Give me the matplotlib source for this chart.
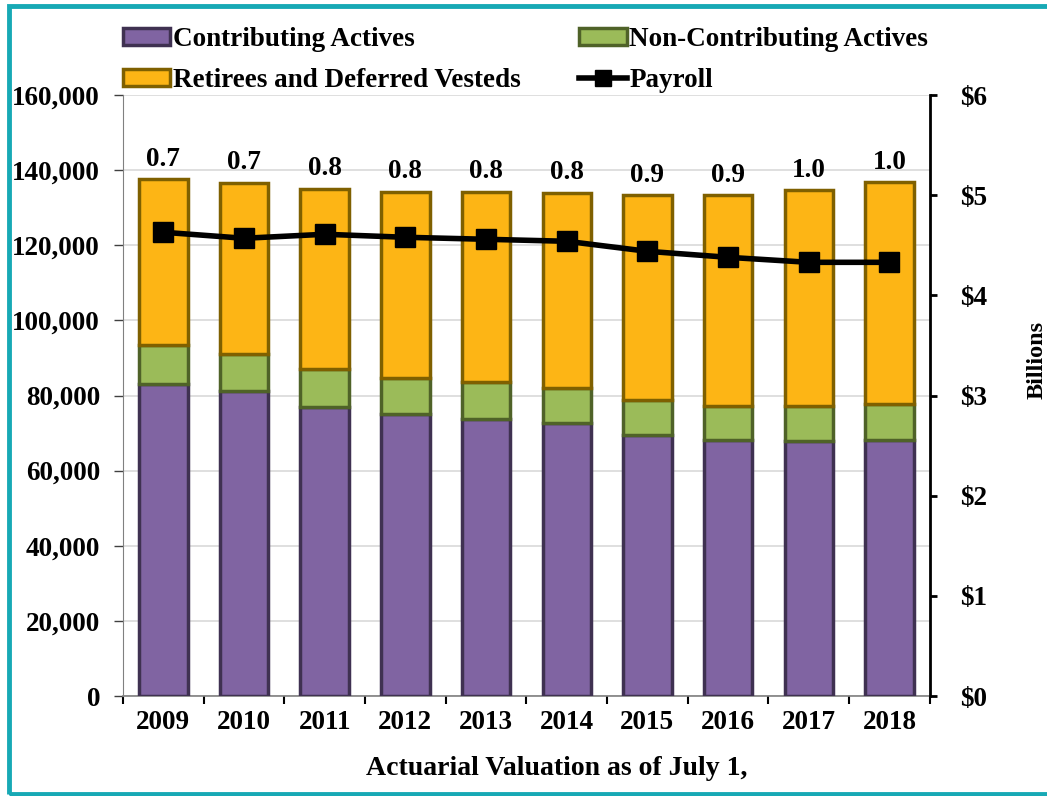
import numpy as np
import matplotlib.pyplot as plt
from matplotlib.patches import Rectangle, Patch
from matplotlib.lines import Line2D

plt.rcParams['font.family'] = ['Liberation Serif', 'DejaVu Serif']
plt.rcParams['font.weight'] = 'bold'

years = ['2009', '2010', '2011', '2012', '2013', '2014', '2015', '2016', '2017', '2018']
contributing = [83100, 81200, 77000, 75100, 73800, 72800, 69500, 68200, 67900, 68200]
non_contributing = [10300, 9800, 10000, 9700, 9900, 9100, 9300, 9000, 9300, 9500]
retirees = [44200, 45700, 48100, 49500, 50600, 52100, 54500, 56100, 57500, 59100]
payroll = [4.63, 4.57, 4.61, 4.58, 4.56, 4.54, 4.44, 4.38, 4.33, 4.33]
ratio_labels = ['0.7', '0.7', '0.8', '0.8', '0.8', '0.8', '0.9', '0.9', '1.0', '1.0']

FS = 19.5

fig = plt.figure(figsize=(10.47, 7.96), dpi=100)
ax = fig.add_axes([0.1175, 0.1256, 0.7705, 0.755])
ax2 = ax.twinx()

x = np.arange(len(years))
w = 0.6
contributing = np.array(contributing)
non_contributing = np.array(non_contributing)
retirees = np.array(retirees)

ax.bar(x, contributing, w, color='#8064A2', edgecolor='#3F3151', linewidth=2.5, zorder=3)
ax.bar(x, non_contributing, w, bottom=contributing, color='#9BBB59',
       edgecolor='#4F6228', linewidth=2.5, zorder=3)
ax.bar(x, retirees, w, bottom=contributing + non_contributing, color='#FDB515',
       edgecolor='#7F6000', linewidth=2.5, zorder=3)

# ratio labels above each stacked bar
totals = contributing + non_contributing + retirees
for xi, t, lab in zip(x, totals, ratio_labels):
    ax.text(xi, t + 2000, lab, ha='center', va='bottom', fontsize=FS, fontweight='bold')

ax2.plot(x, payroll, color='black', linewidth=4, marker='s', markersize=14, zorder=5)

ax.set_xlim(-0.5, 9.5)
ax.set_ylim(0, 160000)
ax2.set_ylim(0, 6)
ax.set_yticks(np.arange(0, 160001, 20000))
ax.set_yticklabels([f'{v:,}' for v in range(0, 160001, 20000)])
ax2.set_yticks(range(7))
ax2.set_yticklabels([f'${v}' for v in range(7)])

ax.set_xticks(x)
ax.set_xticklabels(years)
ax.set_xticks(np.arange(-0.5, 10, 1), minor=True)
ax.tick_params(axis='x', which='major', length=0, pad=10, labelsize=FS)
ax.tick_params(axis='x', which='minor', length=6, width=1.5, color='black')
ax.tick_params(axis='y', length=6.5, width=1, color='#404040', labelsize=FS, pad=10)
ax2.tick_params(axis='y', length=5, width=2, color='black', labelsize=FS, pad=17)

ax.grid(axis='y', color='#D9D9D9', linewidth=1.2, zorder=0)
ax.set_axisbelow(True)

ax.spines['top'].set_visible(False)
ax2.spines['top'].set_visible(False)
ax.spines['left'].set_color('#808080')
ax.spines['bottom'].set_color('#808080')
ax.spines['bottom'].set_linewidth(1.2)
ax2.spines['left'].set_visible(False)
ax2.spines['bottom'].set_visible(False)
ax2.spines['right'].set_color('black')
ax2.spines['right'].set_linewidth(2)
ax.spines['right'].set_visible(False)

ax.set_xlabel('Actuarial Valuation as of July 1,', fontsize=20, fontweight='bold')
ax.xaxis.set_label_coords(0.537, -0.1)
ax2.set_ylabel('Billions', fontsize=17.5, fontweight='bold')
ax2.yaxis.set_label_coords(1.12, 0.56)

handles = [
    Patch(facecolor='#8064A2', edgecolor='#3F3151', linewidth=2.5),
    Patch(facecolor='#FDB515', edgecolor='#7F6000', linewidth=2.5),
    Patch(facecolor='#9BBB59', edgecolor='#4F6228', linewidth=2.5),
    Line2D([0], [0], color='black', linewidth=4, marker='s', markersize=12),
]
labels = ['Contributing Actives', 'Retirees and Deferred Vesteds',
          'Non-Contributing Actives', 'Payroll']
fig.legend(handles, labels, ncol=2, frameon=False, loc='upper left',
           bbox_to_anchor=(0.1175, 0.966), fontsize=FS, handlelength=1.75,
           handleheight=0.6, handletextpad=0.1, columnspacing=2.15,
           labelspacing=0.6, borderaxespad=0, borderpad=0)

fig.patches.append(Rectangle((0.009, 0.002), 1.2, 0.991, transform=fig.transFigure,
                             fill=False, edgecolor='#17A9B5', linewidth=3.5))

fig.savefig('out.png', dpi=100)
